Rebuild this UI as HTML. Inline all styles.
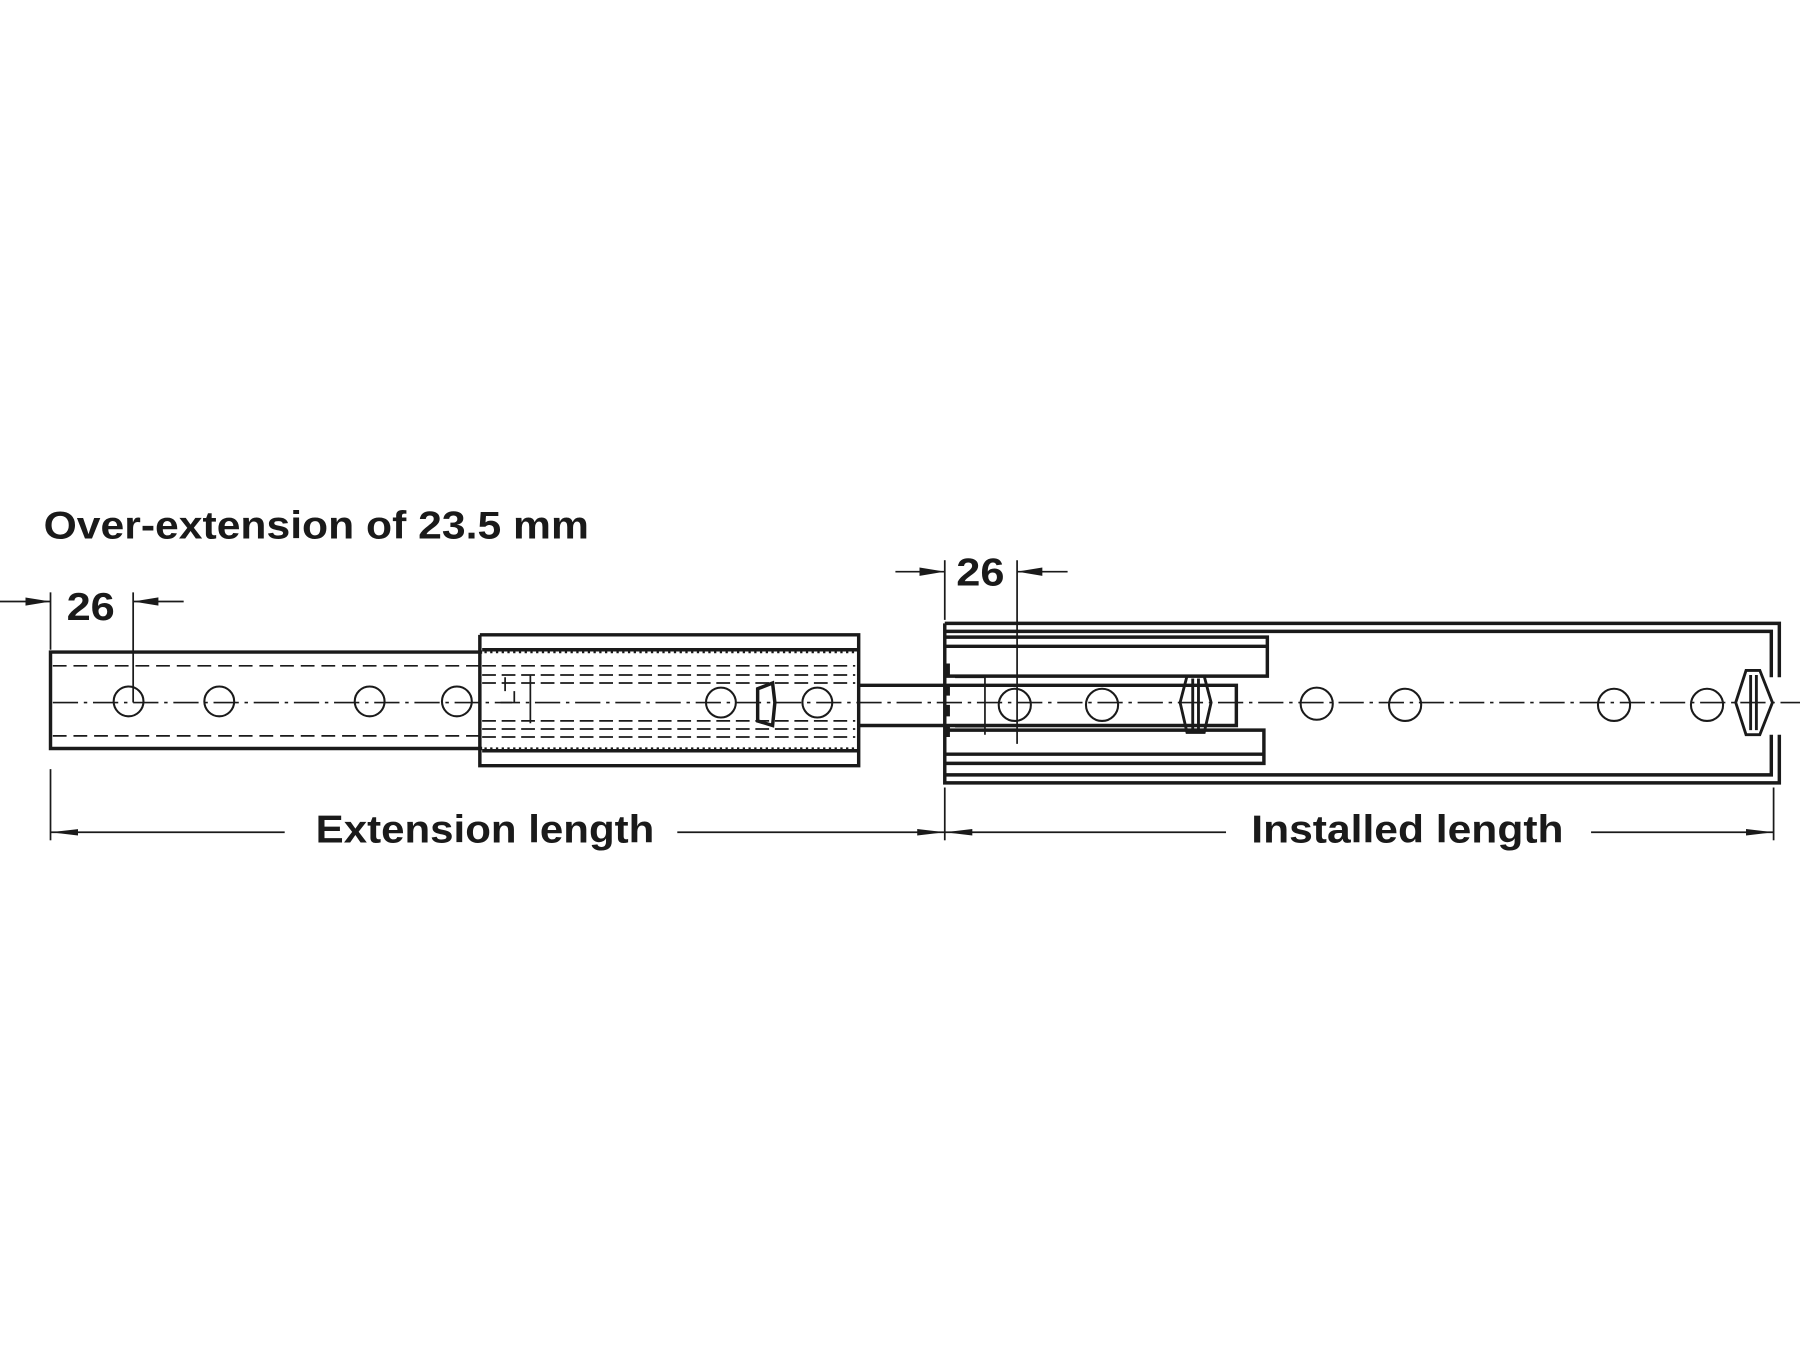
<!DOCTYPE html>
<html><head><style>html,body{margin:0;padding:0;background:#fff}svg{display:block}</style></head>
<body>
<svg width="1800" height="1350" viewBox="0 0 1568 1176" xmlns="http://www.w3.org/2000/svg" font-family="Liberation Sans, Arial, sans-serif" font-weight="bold" fill="none" stroke="#1a1a1a">
<defs>
<marker id="ar" viewBox="0 0 10 10" refX="10" refY="5" markerWidth="22" markerHeight="9" markerUnits="userSpaceOnUse" orient="auto" preserveAspectRatio="none"><path d="M0,1 L10,5 L0,9 z" fill="#1a1a1a" stroke="none"/></marker>
<marker id="arl" viewBox="0 0 10 10" refX="10" refY="5" markerWidth="24" markerHeight="8" markerUnits="userSpaceOnUse" orient="auto" preserveAspectRatio="none"><path d="M0,1.5 L10,5 L0,8.5 z" fill="#1a1a1a" stroke="none"/></marker>
</defs>
<text x="38" y="469" font-size="34" textLength="475" lengthAdjust="spacingAndGlyphs" fill="#1a1a1a" stroke="none">Over-extension of 23.5 mm</text>

<text x="58" y="540" font-size="34" textLength="42" lengthAdjust="spacingAndGlyphs" fill="#1a1a1a" stroke="none">26</text>
<line x1="44" y1="516" x2="44" y2="566" stroke-width="1.5"/>
<line x1="116" y1="516" x2="116" y2="612" stroke-width="1.5"/>
<line x1="0" y1="524" x2="44" y2="524" stroke-width="1.5" marker-end="url(#ar)"/>
<line x1="160" y1="524" x2="116" y2="524" stroke-width="1.5" marker-end="url(#ar)"/>

<text x="833" y="510" font-size="34" textLength="42" lengthAdjust="spacingAndGlyphs" fill="#1a1a1a" stroke="none">26</text>
<line x1="823" y1="488" x2="823" y2="540" stroke-width="1.5"/>
<line x1="886" y1="488" x2="886" y2="648" stroke-width="1.5"/>
<line x1="780" y1="498" x2="823" y2="498" stroke-width="1.5" marker-end="url(#ar)"/>
<line x1="930" y1="498" x2="886" y2="498" stroke-width="1.5" marker-end="url(#ar)"/>

<path d="M823,543 H1550 V590 M823,550 H1543 V590 M823,543 V682 H1550 V640 M823,675 H1543 V640" stroke-width="3"/>
<path d="M823,555 H1104 V589 H823 M823,563 H1104" stroke-width="3"/>
<path d="M823,636 H1101 V665 H823 M823,657 H1101" stroke-width="3"/>
<path d="M748,597 H1077 V632 H748" stroke-width="3"/>

<path d="M420,568 H44 V652 H420" stroke-width="3"/>
<line x1="46" y1="580" x2="420" y2="580" stroke-width="1.5" stroke-dasharray="12,6"/>
<line x1="46" y1="641" x2="420" y2="641" stroke-width="1.5" stroke-dasharray="12,6"/>

<path d="M418,553 H748 V654 M418,553 V667 H748 V654" stroke-width="3"/>
<line x1="420" y1="566" x2="748" y2="566" stroke-width="3"/>
<line x1="420" y1="654" x2="748" y2="654" stroke-width="3"/>
<line x1="422" y1="568" x2="745" y2="568" stroke-width="2" stroke-dasharray="2,3"/>
<line x1="422" y1="652" x2="745" y2="652" stroke-width="2" stroke-dasharray="2,3"/>
<g stroke-width="1.5" stroke-dasharray="12,5">
<line x1="420" y1="580" x2="745" y2="580"/><line x1="420" y1="588" x2="745" y2="588"/><line x1="420" y1="595" x2="745" y2="595"/>
<line x1="420" y1="628" x2="745" y2="628"/><line x1="420" y1="635" x2="745" y2="635"/><line x1="420" y1="642" x2="745" y2="642"/>
</g>
<path d="M440,590 V602 M448,602 V612 M462,588 V630 M436,612 H446" stroke-width="1.5"/>
<line x1="826" y1="578" x2="826" y2="650" stroke-width="3" stroke-dasharray="10,8"/>
<path d="M832,590 H858 M858,588 V640 M832,633 H858" stroke-width="1.5"/>

<line x1="46" y1="612" x2="1568" y2="612" stroke-width="1.5" stroke-dasharray="22,5,3,5"/>

<g stroke-width="1.8">
<circle cx="112" cy="611" r="13"/><circle cx="191" cy="611" r="13"/><circle cx="322" cy="611" r="13"/><circle cx="398" cy="611" r="13"/>
<circle cx="628" cy="612" r="13"/><circle cx="712" cy="612" r="13"/><circle cx="884" cy="614" r="14"/><circle cx="960" cy="614" r="14"/>
<circle cx="1147" cy="613" r="14"/><circle cx="1224" cy="614" r="14"/><circle cx="1406" cy="614" r="14"/><circle cx="1487" cy="614" r="14"/>
</g>
<path d="M660,600 L673,595 L675,612 L673,632 L660,628 Z" stroke-width="3"/>
<path d="M1034,589 H1049 L1055,612 L1049,638 H1034 L1028,612 Z M1039,591 V636 M1044,591 V636" stroke-width="2.5"/>
<path d="M1521,584 H1533 L1544,612 L1533,640 H1521 L1512,612 Z M1525,588 V636 M1530,588 V636" stroke-width="2.5"/>

<line x1="44" y1="670" x2="44" y2="732" stroke-width="1.5"/>
<line x1="823" y1="686" x2="823" y2="732" stroke-width="1.5"/>
<line x1="1545" y1="686" x2="1545" y2="732" stroke-width="1.5"/>
<line x1="248" y1="725" x2="44" y2="725" stroke-width="1.5" marker-end="url(#arl)"/>
<line x1="590" y1="725" x2="823" y2="725" stroke-width="1.5" marker-end="url(#arl)"/>
<line x1="1068" y1="725" x2="823" y2="725" stroke-width="1.5" marker-end="url(#arl)"/>
<line x1="1386" y1="725" x2="1545" y2="725" stroke-width="1.5" marker-end="url(#arl)"/>
<text x="275" y="734" font-size="34" textLength="295" lengthAdjust="spacingAndGlyphs" fill="#1a1a1a" stroke="none">Extension length</text>
<text x="1090" y="734" font-size="34" textLength="272" lengthAdjust="spacingAndGlyphs" fill="#1a1a1a" stroke="none">Installed length</text>
</svg>
</body></html>
